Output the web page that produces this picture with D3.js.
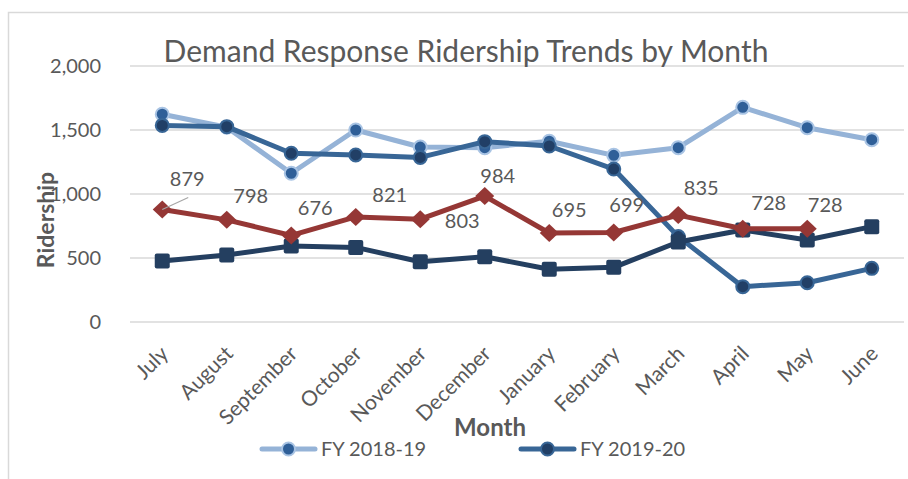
<!DOCTYPE html>
<html>
<head>
<meta charset="utf-8" />
<title>Demand Response Ridership Trends by Month</title>
<script src="https://cdn.jsdelivr.net/npm/d3@7"></script>
<style>
  body { margin: 0; background: #fff; }
  text { font-family: Lato, "Open Sans", sans-serif; fill: #595959; }
</style>
</head>
<body>
<script>
    // data
    var months = ['July', 'August', 'September', 'October', 'November', 'December',
                  'January', 'February', 'March', 'April', 'May', 'June'];
    var fy1819 = [1623, 1522, 1162, 1500, 1367, 1362, 1412, 1302, 1362, 1677, 1518, 1424];
    var fy1920 = [1536, 1526, 1318, 1305, 1286, 1409, 1375, 1195, 667, 276, 307, 419];
    var fy2021 = [477, 523, 594, 583, 471, 510, 412, 427, 625, 719, 641, 745];
    var fy2122 = [879, 798, 676, 821, 803, 984, 695, 699, 835, 728, 728];
    var yTicks = [0, 500, 1000, 1500, 2000];

    // where each data label of the labelled series sits, relative to its point
    var labelOffsets = [[25, -23], [24, -17], [24, -20], [34, -15], [42, 9], [13, -13],
                        [20, -16], [13, -21], [23, -20], [26, -19], [18, -17]];

    var width = 908,
        height = 479;

    var svg = d3.select('body').append('svg')
                .attr('width', width)
                .attr('height', height);

    // chart frame (cut off at right and bottom)
    svg.append('path')
        .attr('d', 'M8.5,' + height + 'V12.5H' + width)
        .attr('fill', 'none')
        .attr('stroke', '#d9d9d9')
        .attr('stroke-width', 1.5);

    var x = d3.scalePoint()
        .domain(months)
        .range([130, 904])
        .padding(0.5);

    var y = d3.scaleLinear()
        .domain([0, 2000])
        .range([322, 66]);

    // gridlines
    svg.selectAll('.grid')
        .data(yTicks)
      .enter().append('line')
        .attr('class', 'grid')
        .attr('x1', 130)
        .attr('x2', 904)
        .attr('y1', function(d) { return y(d); })
        .attr('y2', function(d) { return y(d); })
        .attr('stroke', '#d9d9d9')
        .attr('stroke-width', 1.5);

    // y axis labels
    var yAxis = d3.axisLeft(y).tickValues(yTicks).tickSize(0).tickPadding(0)
        .tickFormat(d3.format(','));
    var gy = svg.append('g')
        .attr('transform', 'translate(101,0)')
        .call(yAxis);
    gy.select('.domain').remove();
    gy.selectAll('text')
        .style('font-size', '20px')
        .attr('fill', '#595959');

    // x axis labels
    var xAxis = d3.axisBottom(x).tickSize(0).tickPadding(0);
    var gx = svg.append('g')
        .attr('transform', 'translate(0,322)')
        .call(xAxis);
    gx.select('.domain').remove();
    gx.selectAll('text')
        .style('font-size', '21px')
        .attr('fill', '#595959')
        .attr('text-anchor', 'end')
        .attr('dy', null)
        .attr('y', 0)
        .attr('transform', 'translate(7,33) rotate(-45)');

    // title + axis titles
    svg.append('text')
        .attr('x', 466)
        .attr('y', 62)
        .attr('text-anchor', 'middle')
        .style('font-size', '30px')
        .text('Demand Response Ridership Trends by Month');

    svg.append('text')
        .attr('transform', 'translate(54,220) rotate(-90)')
        .attr('text-anchor', 'middle')
        .style('font-size', '23px')
        .style('font-weight', 'bold')
        .text('Ridership');

    svg.append('text')
        .attr('x', 490)
        .attr('y', 436)
        .attr('text-anchor', 'middle')
        .style('font-size', '24px')
        .style('font-weight', 'bold')
        .text('Month');

    var line = d3.line()
        .x(function(d, i) { return x(months[i]); })
        .y(function(d) { return y(d); });

    function drawLine(values, color) {
        svg.append('path')
            .datum(values)
            .attr('d', line)
            .attr('fill', 'none')
            .attr('stroke', color)
            .attr('stroke-width', 5)
            .attr('stroke-linejoin', 'round');
    }

    function drawCircles(values, fill, stroke) {
        svg.append('g').selectAll('circle')
            .data(values)
          .enter().append('circle')
            .attr('cx', function(d, i) { return x(months[i]); })
            .attr('cy', function(d) { return y(d); })
            .attr('r', 6.5)
            .attr('fill', fill)
            .attr('stroke', stroke)
            .attr('stroke-width', 2);
    }

    // FY 2018-19
    drawLine(fy1819, '#95b3d7');
    drawCircles(fy1819, '#2f5f98', '#a9c4e4');

    // FY 2019-20
    drawLine(fy1920, '#386696');
    drawCircles(fy1920, '#213f66', '#386696');

    // squares series
    drawLine(fy2021, '#243f60');
    svg.append('g').selectAll('rect')
        .data(fy2021)
      .enter().append('rect')
        .attr('x', function(d, i) { return x(months[i]) - 7.5; })
        .attr('y', function(d) { return y(d) - 7.5; })
        .attr('width', 15)
        .attr('height', 15)
        .attr('rx', 2)
        .attr('fill', '#243f60');

    // diamonds series with labels
    drawLine(fy2122, '#953735');
    svg.append('g').selectAll('path')
        .data(fy2122)
      .enter().append('path')
        .attr('transform', function(d, i) {
            return 'translate(' + x(months[i]) + ',' + y(d) + ')';
        })
        .attr('d', 'M0,-9L9.5,0L0,9L-9.5,0Z')
        .attr('fill', '#953735');

    // leader line for the first label
    svg.append('line')
        .attr('x1', x(months[0]))
        .attr('y1', y(fy2122[0]))
        .attr('x2', x(months[0]) + 26)
        .attr('y2', y(fy2122[0]) - 12)
        .attr('stroke', '#a6a6a6')
        .attr('stroke-width', 1.2);

    svg.append('g').selectAll('text')
        .data(fy2122)
      .enter().append('text')
        .attr('x', function(d, i) { return x(months[i]) + labelOffsets[i][0]; })
        .attr('y', function(d, i) { return y(d) + labelOffsets[i][1]; })
        .attr('text-anchor', 'middle')
        .style('font-size', '20px')
        .attr('fill', '#404040')
        .text(function(d) { return d; });

    // legend (only the first row is within view)
    var legend = [
        {name: 'FY 2018-19', line: '#95b3d7', fill: '#2f5f98', stroke: '#a9c4e4', x: 262},
        {name: 'FY 2019-20', line: '#386696', fill: '#213f66', stroke: '#386696', x: 521}
    ];
    var lg = svg.selectAll('.legend')
        .data(legend)
      .enter().append('g')
        .attr('class', 'legend')
        .attr('transform', function(d) { return 'translate(' + d.x + ',449)'; });
    lg.append('line')
        .attr('x1', 0).attr('x2', 53)
        .attr('stroke', function(d) { return d.line; })
        .attr('stroke-width', 5)
        .attr('stroke-linecap', 'round');
    lg.append('circle')
        .attr('cx', 26.5)
        .attr('r', 6.5)
        .attr('fill', function(d) { return d.fill; })
        .attr('stroke', function(d) { return d.stroke; })
        .attr('stroke-width', 2);
    lg.append('text')
        .attr('x', 59)
        .attr('y', 7)
        .style('font-size', '20px')
        .text(function(d) { return d.name; });
</script>
</body>
</html>
